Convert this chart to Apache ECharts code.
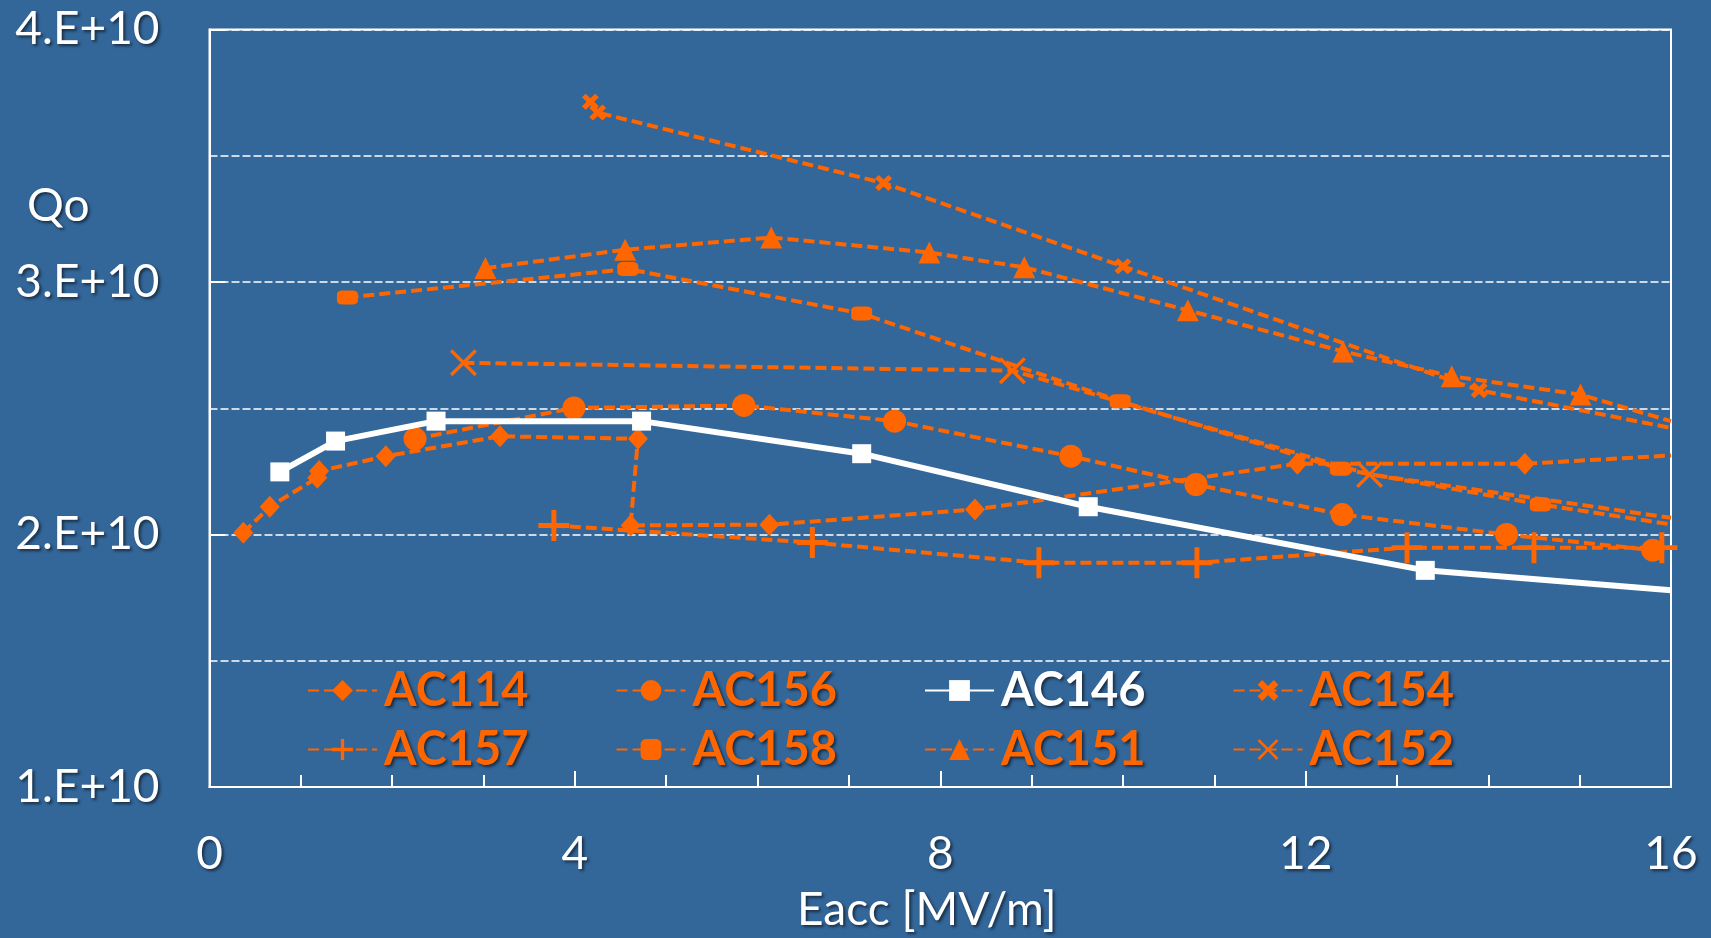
<!DOCTYPE html>
<html><head><meta charset="utf-8">
<script src="https://cdn.jsdelivr.net/npm/echarts@6/dist/echarts.min.js"></script>
<style>html,body{margin:0;padding:0;background:#336699;}#c{width:1711px;height:938px;}</style>
</head><body><div id="c"></div>
<script>
// ---- data (Eacc [MV/m], Qo) ----
const AC114 = [[0.37,2.007e10],[0.66,2.110e10],[1.18,2.225e10],[1.20,2.251e10],[1.93,2.310e10],[3.18,2.389e10],[4.69,2.379e10],[4.61,2.036e10],[6.13,2.039e10],[8.38,2.099e10],[11.91,2.280e10],[14.40,2.280e10],[16.0,2.313e10]];
const AC156 = [[2.25,2.379e10],[3.99,2.501e10],[5.85,2.511e10],[7.50,2.449e10],[9.43,2.310e10],[10.80,2.198e10],[12.40,2.079e10],[14.20,2.000e10],[15.80,1.938e10]];
const AC146 = [[0.77,2.248e10],[1.38,2.370e10],[2.48,2.449e10],[4.73,2.449e10],[7.14,2.320e10],[9.62,2.110e10],[13.31,1.858e10],[16.0,1.779e10]];
const AC154 = [[4.17,3.714e10],[4.25,3.671e10],[7.38,3.392e10],[10.00,3.062e10],[13.90,2.571e10],[16.0,2.422e10]];
const AC157 = [[3.77,2.036e10],[6.60,1.968e10],[9.08,1.888e10],[10.81,1.888e10],[13.11,1.948e10],[14.50,1.948e10],[15.90,1.948e10]];
const AC158 = [[1.51,2.939e10],[4.58,3.051e10],[7.14,2.875e10],[9.97,2.528e10],[12.38,2.260e10],[14.57,2.119e10],[16.0,2.040e10]];
const AC151 = [[3.02,3.055e10],[4.55,3.128e10],[6.15,3.176e10],[7.88,3.117e10],[8.92,3.058e10],[10.71,2.888e10],[12.41,2.725e10],[13.60,2.627e10],[15.01,2.554e10],[16.0,2.449e10]];
const AC152 = [[2.78,2.680e10],[8.79,2.649e10],[12.70,2.238e10],[16.0,2.066e10]];
const SERIES_NAMES = ['AC114','AC156','AC146','AC154','AC157','AC158','AC151','AC152'];
const LEGEND_ROW1 = ['AC114','AC156','AC146','AC154'];
const LEGEND_ROW2 = ['AC157','AC158','AC151','AC152'];
const X_TICK_LABELS = ['0','4','8','12','16'];
const Y_TICK_LABELS = ['1.E+10','2.E+10','3.E+10','4.E+10'];
const X_TITLE = 'Eacc [MV/m]';
const Y_TITLE = 'Qo';

const DATA = {AC114, AC156, AC146, AC154, AC157, AC158, AC151, AC152};

// ---- styles ----
const ORANGE = '#FF6600';
const BG = '#336699';
const XMAX = 16;
const thinX = 'path://M0,9L9,0L50,41L91,0L100,9L59,50L100,91L91,100L50,59L9,100L0,91L41,50Z';
const thickX = 'path://M0,22L22,0L50,28L78,0L100,22L72,50L100,78L78,100L50,72L22,100L0,78L28,50Z';
const plus = 'path://M42,0H58V42H100V58H58V100H42V58H0V42H42Z';
const STYLE = {
  AC114: {symbol:'diamond', size:[20,22]},
  AC156: {symbol:'circle', size:23},
  AC146: {symbol:'rect', size:19, white:true},
  AC154: {symbol:thickX, size:[17,16]},
  AC157: {symbol:plus, size:31},
  AC158: {symbol:'roundRect', size:[21,14]},
  AC151: {symbol:'triangle', size:22},
  AC152: {symbol:thinX, size:27}
};
const shadow = {textShadowColor:'rgba(0,0,0,0.55)', textShadowOffsetX:2, textShadowOffsetY:2, textShadowBlur:3};
const FONT = 'Lato';

const series = SERIES_NAMES.map(name => {
  const st = STYLE[name];
  const col = st.white ? '#FFFFFF' : ORANGE;
  return {
    name, type:'line', clip:true,
    data: DATA[name].map(p => p[0] >= XMAX ? {value:p, symbol:'none'} : {value:p}),
    symbol: st.symbol, symbolSize: st.size,
    itemStyle: {color: col, borderWidth:0},
    lineStyle: st.white ? {color:col, width:6, type:'solid'} : {color:col, width:4, type:[11,5]},
    emphasis:{disabled:true},
    z: st.white ? 3 : 2
  };
});

function legendRow(names, top){
  return {
    left: 307, top: top, orient:'horizontal', padding:0,
    itemWidth: 69, itemHeight: 26, itemGap: 87,
    data: names.map(n => ({name:n, textStyle:{color: STYLE[n].white ? '#FFFFFF' : ORANGE}})),
    textStyle: Object.assign({fontFamily:FONT, fontWeight:'bold', fontSize:47, width:150, padding:[0,0,0,2]}, shadow),
    selectedMode:false
  };
}

const chart = echarts.init(document.getElementById('c'), null, {renderer:'canvas'});
chart.setOption({
  backgroundColor: BG,
  animation: false,
  grid: {left:209.5, right:40, top:29.5, bottom:150, show:true, borderColor:'#FFFFFF', borderWidth:2, backgroundColor:'transparent'},
  legend: [legendRow(LEGEND_ROW1, 667), legendRow(LEGEND_ROW2, 726)],
  xAxis: {
    type:'value', min:0, max:XMAX, interval:4,
    name: X_TITLE, nameLocation:'middle', nameGap:100,
    nameTextStyle: Object.assign({color:'#FFFFFF', fontFamily:FONT, fontSize:46, padding:[0,27,0,0]}, shadow),
    axisLine:{show:true, lineStyle:{color:'#FFFFFF', width:2}},
    axisTick:{show:true, inside:true, length:16, lineStyle:{color:'#FFFFFF', width:2}},
    minorTick:{show:true, splitNumber:4, length:12, lineStyle:{color:'#FFFFFF', width:2}},
    splitLine:{show:false},
    axisLabel: Object.assign({color:'#FFFFFF', fontFamily:FONT, fontSize:46, margin:44,
      formatter: v => X_TICK_LABELS[Math.round(v/4)]}, shadow)
  },
  yAxis: {
    type:'value', min:1e10, max:4e10, interval:1e10,
    axisLine:{show:true, lineStyle:{color:'#FFFFFF', width:2}},
    axisTick:{show:true, inside:true, length:16, lineStyle:{color:'#FFFFFF', width:2}},
    minorTick:{show:false, splitNumber:2},
    splitLine:{show:true, lineStyle:{color:'#FFFFFF', width:1.5, type:[8,3]}},
    minorSplitLine:{show:true, lineStyle:{color:'#FFFFFF', width:1.5, type:[8,3]}},
    axisLabel: Object.assign({color:'#FFFFFF', fontFamily:FONT, fontSize:46, margin:50,
      formatter: v => Y_TICK_LABELS[Math.round(v/1e10)-1]}, shadow)
  },
  graphic: [{
    type:'text', left:27, top:183,
    style: Object.assign({text:Y_TITLE, fill:'#FFFFFF', font:'46px Lato'}, shadow)
  }],
  series
});
</script></body></html>
